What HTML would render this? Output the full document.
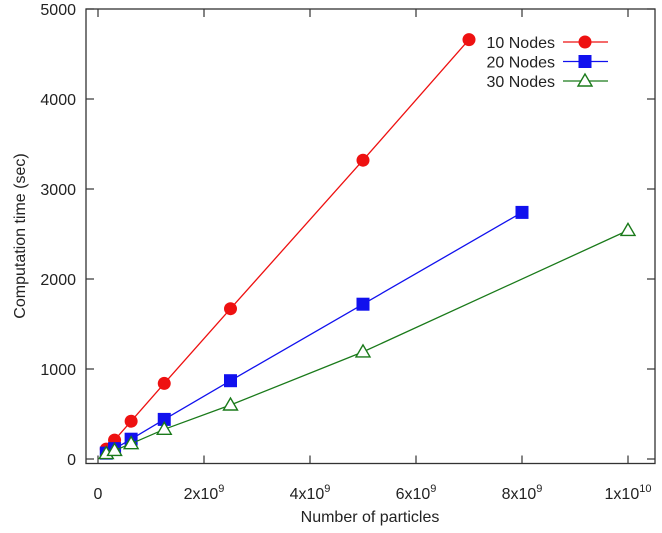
<!DOCTYPE html>
<html><head><meta charset="utf-8"><style>
html,body{margin:0;padding:0;background:#fff;}
svg text{font-family:"Liberation Sans",Arial,sans-serif;fill:#222;}
</style></head><body>
<svg id="chart" width="662" height="528" xmlns="http://www.w3.org/2000/svg"></svg>
<script>
const xN10 = [1.5625e8, 3.125e8, 6.25e8, 1.25e9, 2.5e9, 5e9, 7e9];
const yN10 = [110, 210, 420, 840, 1670, 3320, 4660];
const xN20 = [1.5625e8, 3.125e8, 6.25e8, 1.25e9, 2.5e9, 5e9, 8e9];
const yN20 = [65, 115, 220, 440, 870, 1720, 2740];
const xN30 = [1.5625e8, 3.125e8, 6.25e8, 1.25e9, 2.5e9, 5e9, 1e10];
const yN30 = [60, 95, 170, 330, 600, 1190, 2540];
const xTicks = [0, 2e9, 4e9, 6e9, 8e9, 1e10];
const xTickLabels = [["0",""],["2x10","9"],["4x10","9"],["6x10","9"],["8x10","9"],["1x10","10"]];
const yTicks = [0, 1000, 2000, 3000, 4000, 5000];
const seriesNames = ["10 Nodes", "20 Nodes", "30 Nodes"];

const NS = "http://www.w3.org/2000/svg";
const svg = document.getElementById("chart");
const L=86, R=655, T=9, B=463.5;
const x0=98, xPer=53e-9;
const X = v => x0 + v*xPer;
const Y = v => 459 - v*0.09;
function mk(tag, attrs, parent){const e=document.createElementNS(NS,tag);for(const k in attrs)e.setAttribute(k,attrs[k]);(parent||svg).appendChild(e);return e;}

const frame = mk("rect",{x:L,y:T,width:R-L,height:B-T,fill:"none",stroke:"#333","stroke-width":1.3});



xTicks.forEach((t,i)=>{
  const g = mk("g",{});
  
  
  mk("line",{x1:X(t),x2:X(t),y1:B,y2:B-8,stroke:"#333","stroke-width":1.2},g);
  mk("line",{x1:X(t),x2:X(t),y1:T,y2:T+8,stroke:"#333","stroke-width":1.2},g);
  const tx = mk("text",{x:X(t),y:499,"font-size":16,"text-anchor":"middle"},g);
  tx.textContent = xTickLabels[i][0];
  if(xTickLabels[i][1]){const s=mk("tspan",{dy:-7,"font-size":11},tx);s.textContent=xTickLabels[i][1];}
});
yTicks.forEach(t=>{
  const g = mk("g",{});
  
  
  mk("line",{x1:L,x2:L+8,y1:Y(t),y2:Y(t),stroke:"#333","stroke-width":1.2},g);
  mk("line",{x1:R,x2:R-8,y1:Y(t),y2:Y(t),stroke:"#333","stroke-width":1.2},g);
  const tx = mk("text",{x:76,y:Y(t)+6,"font-size":16,"text-anchor":"end"},g);
  tx.textContent = t;
});
const xt = mk("text",{x:370,y:522,"font-size":16,"text-anchor":"middle"});
xt.textContent="Number of particles";


const yt = mk("text",{x:0,y:0,"font-size":16,"text-anchor":"middle",transform:"translate(25,236) rotate(-90)"});
yt.textContent="Computation time (sec)";



function marker(type,cx,cy,color,g){
  if(type===0) mk("circle",{cx:cx,cy:cy,r:6.5,fill:color},g);
  else if(type===1) mk("rect",{x:cx-6.5,y:cy-6.5,width:13,height:13,fill:color},g);
  else mk("polygon",{points:`${cx},${cy-7} ${cx-7},${cy+5} ${cx+7},${cy+5}`,fill:"#fff",stroke:color,"stroke-width":1.4},g);
}
const series = [[xN10,yN10,"#ee1111"],[xN20,yN20,"#1111ee"],[xN30,yN30,"#1a7a1a"]];
series.forEach((s,si)=>{
  const g = mk("g",{});
  
  
  mk("polyline",{points:s[0].map((v,i)=>X(v)+","+Y(s[1][i])).join(" "),fill:"none",stroke:s[2],"stroke-width":1.3},g);
  s[0].forEach((v,i)=>marker(si,X(v),Y(s[1][i]),s[2],g));
  const lg = mk("g",{});
  
  
  const ly = 42+si*19.5;
  const lt = mk("text",{x:555,y:ly+6,"font-size":16,"text-anchor":"end"},lg);
  lt.textContent = seriesNames[si];
  mk("line",{x1:563,x2:608,y1:ly,y2:ly,stroke:s[2],"stroke-width":1.3},lg);
  marker(si,585,ly,s[2],lg);
});
</script>
</body></html>
